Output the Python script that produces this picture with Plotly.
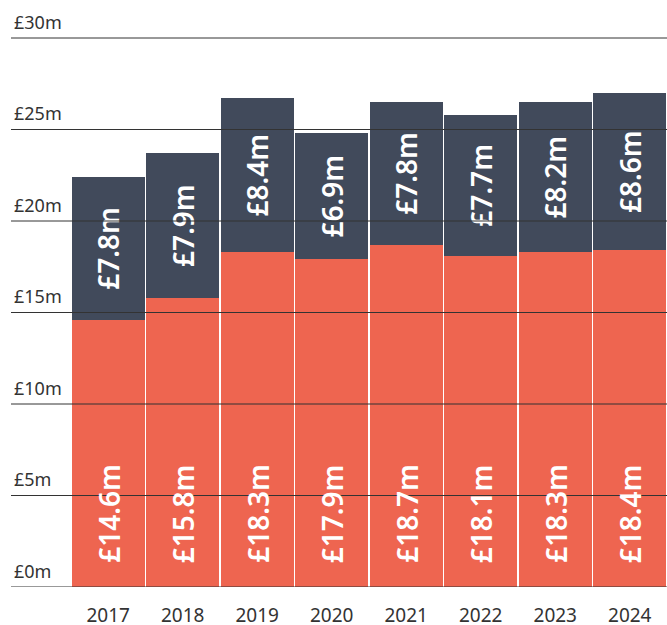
import plotly.graph_objects as go

years = ["2017", "2018", "2019", "2020", "2021", "2022", "2023", "2024"]
base_vals = [14.6, 15.8, 18.3, 17.9, 18.7, 18.1, 18.3, 18.4]
top_vals = [7.8, 7.9, 8.4, 6.9, 7.8, 7.7, 8.2, 8.6]
y_ticks = [0, 5, 10, 15, 20, 25, 30]
y_tick_text = ["£%dm" % v for v in y_ticks]

ORANGE = "#EE6550"
SLATE = "#414A5B"
FONT = "Noto Sans"
xpos = list(range(len(years)))

fig = go.Figure()
fig.add_trace(go.Bar(
    x=xpos, y=base_vals, marker=dict(color=ORANGE, line=dict(width=0)),
    hoverinfo="skip",
))
fig.add_trace(go.Bar(
    x=xpos, y=top_vals, marker=dict(color=SLATE, line=dict(width=0)),
    text=["£%.1fm" % v for v in top_vals], textposition="inside",
    insidetextanchor="middle", textangle=-90,
    textfont=dict(family=FONT, size=28, color="white", weight=600),
    hoverinfo="skip",
))

# bottom-segment labels anchored near the base
for i, v in zip(xpos, base_vals):
    fig.add_annotation(
        x=i, y=0, xref="x", yref="y", text="£%.1fm" % v, showarrow=False,
        textangle=-90, yanchor="bottom", xanchor="center", yshift=22,
        font=dict(family=FONT, size=28, color="white", weight=600),
    )

# gridlines drawn above the bars
for t in y_ticks:
    fig.add_shape(type="line", xref="paper", yref="y", x0=0, x1=1, y0=t, y1=t,
                  line=dict(color="#333333", width=1), layer="above")

fig.update_layout(
    width=667, height=625, barmode="stack", bargap=0.02, showlegend=False,
    margin=dict(l=11, r=0, t=0, b=38),
    paper_bgcolor="white", plot_bgcolor="white",
    font=dict(family=FONT, color="#333333"),
)
fig.update_xaxes(
    range=[-1.305, 7.5], tickvals=xpos, ticktext=years, showgrid=False,
    zeroline=False, showline=False, ticks="", ticklabelstandoff=15,
    automargin=False,
    tickfont=dict(family=FONT, size=19, color="#333333"),
)
fig.update_yaxes(
    range=[0, 30 * 587 / 549], tickvals=y_ticks, ticktext=y_tick_text,
    showgrid=False, zeroline=False, showline=False, ticks="",
    ticklabelposition="inside top", ticklabelshift=-3, automargin=False,
    tickfont=dict(family=FONT, size=18, color="#333333"),
)

fig.write_html(
    "out.html",
    config={"displayModeBar": False},
    post_script="document.body.style.margin='0';document.body.style.overflow='hidden';",
)
